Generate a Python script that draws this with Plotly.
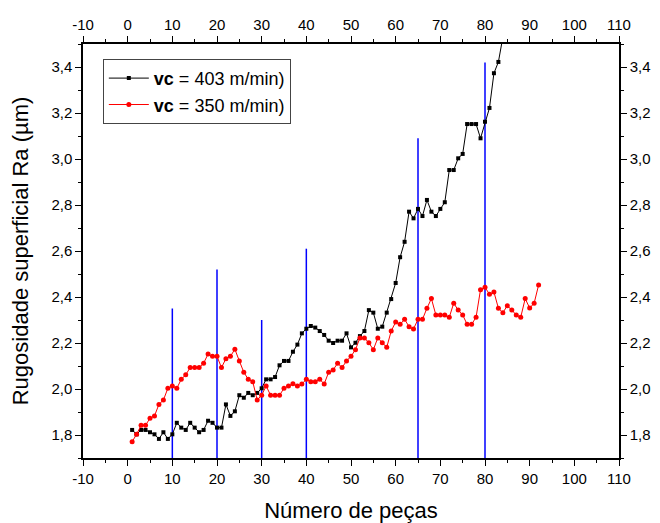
import plotly.graph_objects as go

# ---------------- data ----------------
pieces_403 = list(range(1, 85))
ra_403 = [1.822, 1.803, 1.822, 1.822, 1.812, 1.803, 1.783, 1.812, 1.783, 1.803,
          1.853, 1.832, 1.822, 1.853, 1.832, 1.812, 1.822, 1.862, 1.853, 1.832,
          1.832, 1.933, 1.883, 1.903, 1.973, 1.962, 1.983, 1.973, 1.983, 2.003,
          2.042, 2.042, 2.052, 2.103, 2.122, 2.122, 2.162, 2.193, 2.242, 2.262,
          2.274, 2.267, 2.252, 2.235, 2.210, 2.200, 2.210, 2.210, 2.242, 2.181,
          2.201, 2.230, 2.252, 2.343, 2.332, 2.262, 2.271, 2.332, 2.391, 2.461,
          2.573, 2.640, 2.771, 2.742, 2.783, 2.752, 2.822, 2.771, 2.752, 2.783,
          2.812, 2.952, 2.952, 3.003, 3.022, 3.152, 3.152, 3.152, 3.090, 3.162,
          3.222, 3.373, 3.422, 3.530]

pieces_350 = list(range(1, 93))
ra_350 = [1.771, 1.803, 1.842, 1.842, 1.873, 1.883, 1.933, 1.952, 2.003, 2.013,
          2.003, 2.042, 2.062, 2.093, 2.093, 2.093, 2.112, 2.152, 2.142, 2.142,
          2.093, 2.132, 2.142, 2.173, 2.122, 2.073, 2.042, 2.032, 1.952, 1.973,
          2.013, 1.973, 1.973, 1.973, 2.003, 2.013, 2.023, 2.013, 2.022, 2.042,
          2.032, 2.032, 2.042, 2.022, 2.073, 2.083, 2.112, 2.093, 2.122, 2.142,
          2.171, 2.222, 2.222, 2.201, 2.171, 2.222, 2.201, 2.181, 2.252, 2.291,
          2.281, 2.303, 2.271, 2.261, 2.303, 2.303, 2.351, 2.393, 2.322, 2.322,
          2.322, 2.312, 2.373, 2.343, 2.322, 2.281, 2.281, 2.312, 2.432, 2.442,
          2.412, 2.422, 2.351, 2.332, 2.362, 2.343, 2.322, 2.312, 2.393, 2.352,
          2.373, 2.452]

marker_pieces = [10, 20, 30, 40, 65, 80]
marker_tops = [2.35, 2.52, 2.30, 2.61, 3.09, 3.42]

x_range = [-10, 110]
y_range = [1.7, 3.5]

x_ticks = list(range(-10, 111, 10))
x_tick_labels = ["-10", "0", "10", "20", "30", "40", "50", "60", "70", "80", "90", "100", "110"]
y_ticks = [1.8, 2.0, 2.2, 2.4, 2.6, 2.8, 3.0, 3.2, 3.4]
y_tick_labels = ["1,8", "2,0", "2,2", "2,4", "2,6", "2,8", "3,0", "3,2", "3,4"]

FONT = "Liberation Sans, Arial, sans-serif"

# ---------------- figure ----------------
fig = go.Figure()

# blue vertical markers
bx, by = [], []
for xv, top in zip(marker_pieces, marker_tops):
    bx += [xv, xv, None]
    by += [y_range[0], top, None]
fig.add_trace(go.Scatter(x=bx, y=by, mode="lines",
                         line=dict(color="#0000ff", width=1.5),
                         showlegend=False, hoverinfo="skip"))

fig.add_trace(go.Scatter(x=pieces_403, y=ra_403, mode="lines+markers",
                         name="<b>vc</b> = 403 m/min)",
                         line=dict(color="black", width=1),
                         marker=dict(symbol="square", size=4, color="black")))
fig.add_trace(go.Scatter(x=pieces_350, y=ra_350, mode="lines+markers",
                         name="<b>vc</b> = 350 m/min)",
                         line=dict(color="#ff0000", width=1),
                         marker=dict(symbol="circle", size=5, color="#ff0000")))

# dummy trace to activate the top/right axes
fig.add_trace(go.Scatter(x=[None], y=[None], xaxis="x2", yaxis="y2",
                         showlegend=False, hoverinfo="skip"))

axis_common = dict(showline=True, linecolor="black", linewidth=1.5,
                   ticks="outside", ticklen=6, tickwidth=1.2, tickcolor="black",
                   showgrid=False, zeroline=False, automargin=False,
                   tickfont=dict(family=FONT, size=15, color="black"))
minor_x = dict(dtick=5, tick0=-10, ticks="outside", ticklen=3, tickcolor="black", tickwidth=1.2, showgrid=False)
minor_y = dict(dtick=0.1, tick0=1.7, ticks="outside", ticklen=3, tickcolor="black", tickwidth=1.2, showgrid=False)

# page body adds an 8px offset; figure is sized to fit the 660x523 window
fig.update_layout(
    width=652, height=515,
    margin=dict(l=75, r=41, t=36, b=65),
    paper_bgcolor="white", plot_bgcolor="white",
    font=dict(family=FONT, color="black"),
    xaxis=dict(range=x_range, tickmode="array", tickvals=x_ticks, ticktext=x_tick_labels,
               minor=minor_x,
               title=dict(text="Número de peças", font=dict(family=FONT, size=22), standoff=25),
               **axis_common),
    yaxis=dict(range=y_range, tickmode="array", tickvals=y_ticks, ticktext=y_tick_labels,
               minor=minor_y,
               title=dict(text="Rugosidade superficial Ra (µm)", font=dict(family=FONT, size=22), standoff=25),
               **axis_common),
    xaxis2=dict(range=x_range, overlaying="x", side="top", anchor="y",
                tickmode="array", tickvals=x_ticks, ticktext=x_tick_labels,
                minor=minor_x, **axis_common),
    yaxis2=dict(range=y_range, overlaying="y", side="right", anchor="x",
                tickmode="array", tickvals=y_ticks, ticktext=y_tick_labels,
                minor=minor_y, **axis_common),
    legend=dict(x=0.037, y=0.964, xanchor="left", yanchor="top",
                bgcolor="white", bordercolor="#444444", borderwidth=1,
                font=dict(family=FONT, size=18, color="black"),
                tracegroupgap=0, itemwidth=40),
)

fig.write_html("out.html")
